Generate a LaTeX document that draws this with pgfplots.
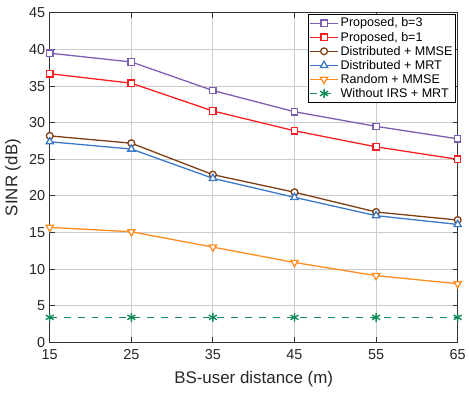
\documentclass[border=0pt]{standalone}
\usepackage{pgfplots}
\pgfplotsset{compat=1.18}
\usepackage{fontspec}
\setmainfont{Liberation Sans}
\definecolor{cpurp}{RGB}{126,94,176}
\definecolor{cred}{RGB}{250,30,35}
\definecolor{cbrown}{RGB}{125,62,20}
\definecolor{cblue}{RGB}{60,120,200}
\definecolor{corange}{RGB}{255,140,30}
\definecolor{cgreen}{RGB}{20,140,90}
\begin{document}
\begin{tikzpicture}
\begin{axis}[
  scale only axis, width=410pt, height=331pt,
  xmin=15, xmax=65, ymin=0, ymax=45,
  xtick={15,25,...,65}, ytick={0,5,...,45},
  grid=major, major grid style={draw=gray!40, line width=0.9pt},
  axis line style={draw=black!80, line width=1pt},
  tick style={draw=black!80, line width=1pt},
  tick align=inside, major tick length=5pt,
  /pgf/number format/assume math mode=true,
  ticklabel style={font=\fontsize{14.5}{16}\selectfont, text=black!85},
  xticklabel style={yshift=-4pt},
  yticklabel style={xshift=-1pt},
  xlabel={BS-user distance (m)}, ylabel={SINR (dB)},
  every axis x label/.style={at={(axis description cs:0.5,0)}, yshift=-37pt, anchor=center, font=\fontsize{17}{19}\selectfont, text=black!85},
  every axis y label/.style={at={(axis description cs:0,0.5)}, xshift=-37pt, rotate=90, anchor=center, font=\fontsize{17}{19}\selectfont, text=black!85},
  legend style={font=\fontsize{12.6}{15}\selectfont, draw=black, line width=1pt, inner sep=1.5pt, row sep=-0.5pt, cells={anchor=west}, at={(0.997,0.997)}, anchor=north east},
  legend image code/.code={\draw[mark repeat=2, mark phase=2] plot coordinates {(0pt,0pt)(14pt,0pt)(28pt,0pt)};},
  every axis plot/.append style={line width=1.3pt, mark size=3.2pt, mark options={solid, fill=white}},
]
\addplot[color=cpurp, mark=square*] coordinates {(15,39.5)(25,38.3)(35,34.4)(45,31.5)(55,29.5)(65,27.8)};
\addlegendentry{Proposed, b=3}
\addplot[color=cred, mark=square*] coordinates {(15,36.7)(25,35.4)(35,31.6)(45,28.9)(55,26.7)(65,25.0)};
\addlegendentry{Proposed, b=1}
\addplot[color=cbrown, mark=*, mark size=3.4pt] coordinates {(15,28.2)(25,27.2)(35,22.9)(45,20.5)(55,17.8)(65,16.7)};
\addlegendentry{Distributed + MMSE}
\addplot[color=cblue, mark=triangle*, mark size=4.2pt] coordinates {(15,27.4)(25,26.4)(35,22.4)(45,19.8)(55,17.3)(65,16.1)};
\addlegendentry{Distributed + MRT}
\addplot[color=corange, mark=triangle*, mark size=4.2pt, mark options={solid, fill=white, rotate=180}] coordinates {(15,15.7)(25,15.1)(35,13.0)(45,10.9)(55,9.1)(65,8.0)};
\addlegendentry{Random + MMSE}
\addplot[color=cgreen, dash pattern=on 7pt off 7pt, mark=asterisk, mark size=4.6pt, mark options={solid, line width=1.4pt}] coordinates {(15,3.4)(25,3.4)(35,3.4)(45,3.4)(55,3.4)(65,3.4)};
\addlegendentry{Without IRS + MRT}
\end{axis}
\path (current axis.south west) ++(-50pt,-50pt);
\path (current axis.north east) ++(0pt,13pt);
\end{tikzpicture}
\end{document}
